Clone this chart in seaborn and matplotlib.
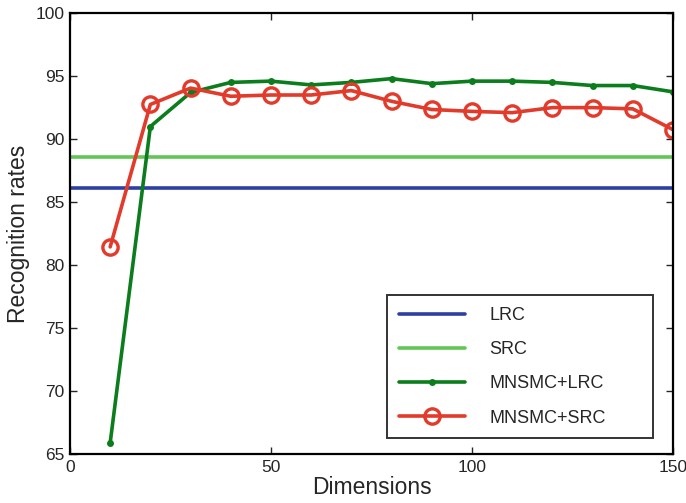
import matplotlib
matplotlib.use("Agg")
import matplotlib.pyplot as plt
import seaborn as sns
import pandas as pd

# Recognition rate versus feature dimension
dimensions = [10, 20, 30, 40, 50, 60, 70, 80, 90, 100, 110, 120, 130, 140, 150]
mnsmc_lrc = [65.9, 91.0, 93.7, 94.5, 94.6, 94.3, 94.5, 94.8, 94.4, 94.6, 94.6, 94.5, 94.25, 94.25, 93.75]
mnsmc_src = [81.45, 92.75, 94.05, 93.4, 93.5, 93.5, 93.85, 93.0, 92.35, 92.2, 92.1, 92.5, 92.5, 92.4, 90.75]
lrc_rate = 86.1
src_rate = 88.55

sns.set_style("ticks")
plt.rcParams["font.family"] = ["Liberation Sans", "DejaVu Sans"]

fig = plt.figure(figsize=(6.86, 5.03), dpi=100)
ax = fig.add_axes([0.102, 0.097, 0.879, 0.877])

x_range = [0, 150]
baselines = pd.DataFrame({
    "Dimensions": x_range * 2,
    "rate": [lrc_rate, lrc_rate, src_rate, src_rate],
    "method": ["LRC", "LRC", "SRC", "SRC"],
})
sns.lineplot(data=baselines[baselines.method == "LRC"], x="Dimensions", y="rate",
             color="#2c3fa3", lw=2.6, ax=ax, label="LRC")
sns.lineplot(data=baselines[baselines.method == "SRC"], x="Dimensions", y="rate",
             color="#62c655", lw=2.6, ax=ax, label="SRC")
sns.lineplot(x=dimensions, y=mnsmc_lrc, color="#0b7d1c", lw=2.6, marker="o",
             markersize=5, markeredgewidth=0, ax=ax, label="MNSMC+LRC")
sns.lineplot(x=dimensions, y=mnsmc_src, color="#e23a2b", lw=2.6, marker="o",
             markersize=11, markerfacecolor="none", markeredgecolor="#e23a2b",
             markeredgewidth=2.4, ax=ax, label="MNSMC+SRC")

ax.set_xlim(0, 150)
ax.set_ylim(65, 100)
ax.set_xticks([0, 50, 100, 150])
ax.set_yticks([65, 70, 75, 80, 85, 90, 95, 100])
ax.tick_params(direction="in", length=5, width=1, labelsize=12.5, top=True, right=True,
               labeltop=False, labelright=False, pad=4)
for s in ax.spines.values():
    s.set_linewidth(1.6)
    s.set_color("black")
ax.set_xlabel("Dimensions", fontsize=16.5, labelpad=1)
ax.set_ylabel("Recognition rates", fontsize=16.5, labelpad=4)

# Legend box spans a fixed width in the lower right, entries left-aligned
leg = ax.legend(loc="lower left", bbox_to_anchor=(0.526, 0.036, 0.441, 0.3),
                mode="expand", fontsize=13, frameon=True, fancybox=False,
                handlelength=3.65, handletextpad=1.35, labelspacing=0.95,
                borderpad=0.65, borderaxespad=0)
leg.get_frame().set_edgecolor("black")
leg.get_frame().set_linewidth(1.4)

fig.savefig("out.png", dpi=100)
